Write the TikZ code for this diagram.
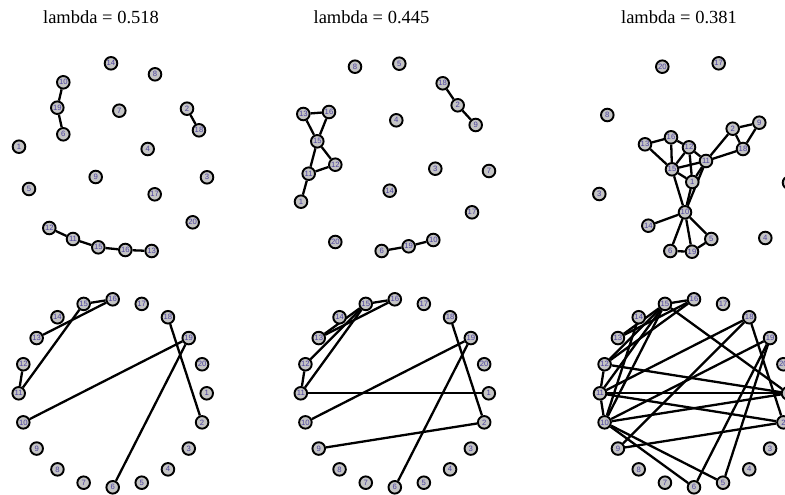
\documentclass[tikz,border=0pt]{standalone}
\usepackage{fontspec}
\setmainfont{Liberation Serif}
\newfontfamily\lblfont{Liberation Sans}
\definecolor{nodegray}{HTML}{C4C4C4}
\definecolor{lblcol}{HTML}{4E44A0}
\pgfdeclarelayer{bg}
\pgfsetlayers{bg,main}
\tikzset{
  v/.style={circle, draw=black, line width=1.9pt, fill=nodegray, minimum size=12.6pt,
    inner sep=0pt, text=lblcol, font=\lblfont\fontsize{7.7}{7.7}\selectfont},
  e/.style={line width=2.3pt, black},
  ttl/.style={anchor=base, font=\fontsize{18.5}{20}\selectfont, inner sep=0pt}
}
\begin{document}
\begin{tikzpicture}[x=1pt,y=-1pt]
\useasboundingbox (0,0) rectangle (785,495);
\clip (0,0) rectangle (785,495);
% titles
\node[ttl] (t1) at (101,23.3) {lambda = 0.518};
\node[ttl] (t2) at (371.5,23.3) {lambda = 0.445};
\node[ttl] (t3) at (679,23.3) {lambda = 0.381};
% panel a
\foreach \n/\x/\y in {14/111/63.3, 8/155/74.3, 10/63.3/82.3, 19/57.3/107.7, 7/119.3/110.7,
  2/187/108.7, 18/199/130.3, 6/63.3/134.3, 1/19/146.7, 4/147.7/149, 9/95.7/177,
  3/207/177.3, 5/29/189, 17/154.7/194.3, 20/192.7/222.3, 12/49.3/228, 11/73/239,
  15/98.3/247.3, 16/125.3/250, 13/151.7/251}
  \node[v] (a\n) at (\x,\y) {\n};
% panel b
\foreach \n/\x/\y in {8/355/66.7, 5/399.3/63.7, 18/442.7/83.3, 2/457.7/105.3, 9/475.7/125,
  13/303.3/114, 16/329/112, 4/396.3/120.3, 15/317.3/141.3, 12/335.3/164.7, 11/308.7/173.7,
  3/435.3/168.7, 7/489/171, 14/389.7/190.7, 1/301/201.7, 17/472/212.3, 20/335.3/242,
  10/433.3/240, 19/408.7/246.3, 6/381.7/251}
  \node[v] (b\n) at (\x,\y) {\n};
% panel c
\foreach \n/\x/\y in {20/662.3/66.7, 17/718.7/63.3, 8/607.3/115, 2/732.7/128.7, 9/759.3/122.7,
  16/671/137.3, 13/645/144.3, 12/689/147.3, 18/743/149, 11/706/161, 15/672/169.3,
  1/692.3/182, 7/789/182.7, 3/599.3/194, 10/685/212.3, 14/648.3/225.7, 5/711.3/239,
  4/765.3/238, 6/670.3/251, 19/692/251.7}
  \node[v] (c\n) at (\x,\y) {\n};
% circle panels
\foreach \p/\cx in {d/112.7, e/394.8, f/694}
  \foreach \k in {1,...,20}
    \node[v] (\p\k) at ({\cx+94*cos((\k-1)*18)},{393.3+94*sin((\k-1)*18)}) {\k};
\begin{pgfonlayer}{bg}
\foreach \p in {a,d}
  \foreach \u/\w in {10/19, 19/6, 2/18, 12/11, 11/15, 15/16, 16/13}
    \draw[e] (\p\u) -- (\p\w);
\foreach \p in {b,e}
  \foreach \u/\w in {18/2, 2/9, 13/16, 13/15, 16/15, 15/12, 15/11, 11/12, 11/1, 6/19, 19/10}
    \draw[e] (\p\u) -- (\p\w);
\foreach \p in {c,f}
  \foreach \u/\w in {13/16, 13/15, 15/16, 16/12, 12/15, 12/1, 12/11, 15/11, 15/1, 15/10,
    11/1, 11/10, 1/10, 11/2, 11/18, 2/9, 2/18, 9/18, 10/14, 10/6, 10/19, 10/5, 5/19, 6/19}
    \draw[e] (\p\u) -- (\p\w);
\end{pgfonlayer}
\end{tikzpicture}
\end{document}
